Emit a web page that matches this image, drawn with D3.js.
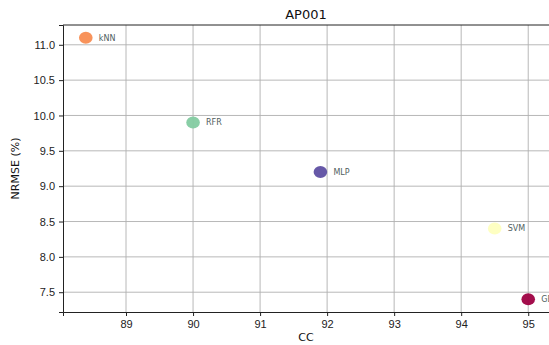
<!DOCTYPE html>
<html>
<head>
<meta charset="utf-8">
<script src="https://cdn.jsdelivr.net/npm/d3@7"></script>
<style>
  body { margin: 0; background: #fff; }
  svg { font-family: "DejaVu Sans", sans-serif; }
</style>
</head>
<body>
<div id="chart"></div>
<script>
const models = ['kNN', 'RFR', 'MLP', 'SVM', 'GBR']
const ccValues = [88.4, 90.0, 91.9, 94.5, 95.0]
const nrmseValues = [11.1, 9.9, 9.2, 8.4, 7.4]
const pointColors = ['#f88d52', '#83cba1', '#5e4fa2', '#feffbf', '#9e0142']
const xTicks = [89, 90, 91, 92, 93, 94, 95]
const yTicks = [7.5, 8.0, 8.5, 9.0, 9.5, 10.0, 10.5, 11.0]

const W = 549, H = 345
const margin = { top: 25, right: 0, bottom: 33, left: 63 }
const width = W - margin.left - margin.right
const height = H - margin.top - margin.bottom

const svg = d3.select('#chart')
  .append('svg')
    .attr('width', W)
    .attr('height', H)

const g = svg.append('g')
    .attr('transform', `translate(${margin.left},${margin.top})`)

const x = d3.scaleLinear()
    .domain([88.06, 95.31])
    .range([0, width])

const y = d3.scaleLinear()
    .domain([7.22, 11.28])
    .range([height, 0])

// grid
g.append('g')
  .selectAll('line')
  .data(xTicks)
  .join('line')
    .attr('x1', d => x(d)).attr('x2', d => x(d))
    .attr('y1', 0).attr('y2', height)
    .attr('stroke', '#b0b0b0')
    .attr('stroke-width', 0.9)

g.append('g')
  .selectAll('line')
  .data(yTicks)
  .join('line')
    .attr('y1', d => y(d)).attr('y2', d => y(d))
    .attr('x1', 0).attr('x2', width)
    .attr('stroke', '#b0b0b0')
    .attr('stroke-width', 0.9)

// axes
const xAxis = g.append('g')
    .attr('transform', `translate(0,${height})`)
    .call(d3.axisBottom(x).tickValues(xTicks).tickFormat(d3.format('d')).tickSizeOuter(0).tickSize(4).tickPadding(4))
const yAxis = g.append('g')
    .call(d3.axisLeft(y).tickValues(yTicks).tickFormat(d3.format('.1f')).tickSizeOuter(0).tickSize(4).tickPadding(4))

for (const ax of [xAxis, yAxis]) {
  ax.select('.domain').attr('stroke', '#222').attr('stroke-width', 1)
  ax.selectAll('.tick line').attr('stroke', '#222')
  ax.selectAll('.tick text').attr('fill', '#222').attr('font-size', 11)
}

// top spine
g.append('line')
    .attr('x1', 0).attr('x2', width)
    .attr('y1', 0).attr('y2', 0)
    .attr('stroke', '#222')

// points
const pts = models.map((m, i) => ({ name: m, cc: ccValues[i], nrmse: nrmseValues[i], color: pointColors[i] }))

g.selectAll('.pt')
  .data(pts)
  .join('ellipse')
    .attr('class', 'pt')
    .attr('cx', d => x(d.cc))
    .attr('cy', d => y(d.nrmse))
    .attr('rx', 6.8)
    .attr('ry', 6)
    .attr('fill', d => d.color)
    .attr('opacity', 0.95)

g.selectAll('.lbl')
  .data(pts)
  .join('text')
    .attr('class', 'lbl')
    .attr('x', d => x(d.cc) + 13)
    .attr('y', d => y(d.nrmse))
    .attr('dy', '0.35em')
    .attr('font-size', 8)
    .attr('fill', '#4f6060')
    .text(d => d.name)

// labels
svg.append('text')
    .attr('x', margin.left + width / 2)
    .attr('y', 19)
    .attr('text-anchor', 'middle')
    .attr('font-size', 13)
    .attr('fill', '#111')
    .text('AP001')

svg.append('text')
    .attr('x', margin.left + width / 2)
    .attr('y', 341)
    .attr('text-anchor', 'middle')
    .attr('font-size', 11)
    .attr('fill', '#111')
    .text('CC')

svg.append('text')
    .attr('transform', `translate(19,${margin.top + height / 2}) rotate(-90)`)
    .attr('text-anchor', 'middle')
    .attr('font-size', 11)
    .attr('fill', '#111')
    .text('NRMSE (%)')
</script>
</body>
</html>
